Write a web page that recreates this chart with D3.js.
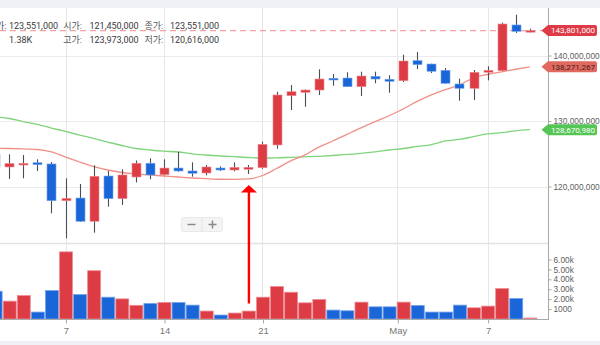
<!DOCTYPE html>
<html>
<head>
<meta charset="utf-8">
<script src="https://cdn.jsdelivr.net/npm/d3@7"></script>
<style>
  html, body { margin: 0; padding: 0; background: #fff; }
  svg { display: block; font-family: Roboto, "Noto Sans CJK KR", "Noto Sans", sans-serif; }
</style>
</head>
<body>
<svg id="chart" width="600" height="345"></svg>
<script>
// Daily KRW candles, 2 Apr – 10 May 2025
const days = [
  "2025-04-02","2025-04-03","2025-04-04","2025-04-05","2025-04-06","2025-04-07","2025-04-08",
  "2025-04-09","2025-04-10","2025-04-11","2025-04-12","2025-04-13","2025-04-14","2025-04-15",
  "2025-04-16","2025-04-17","2025-04-18","2025-04-19","2025-04-20","2025-04-21","2025-04-22",
  "2025-04-23","2025-04-24","2025-04-25","2025-04-26","2025-04-27","2025-04-28","2025-04-29",
  "2025-04-30","2025-05-01","2025-05-02","2025-05-03","2025-05-04","2025-05-05","2025-05-06",
  "2025-05-07","2025-05-08","2025-05-09","2025-05-10"
];
const openPrices = [
  124900000,122980000,123280000,123630000,123440000,117830000,118240000,
  114690000,121600000,118140000,121450000,123550000,121800000,122820000,
  122370000,122060000,122820000,122520000,122630000,122870000,126340000,
  133860000,134380000,134730000,136520000,136560000,135240000,136820000,
  136370000,136150000,139210000,138700000,137740000,135650000,134990000,
  137440000,137680000,144660000,143600000
];
const highPrices = [
  126300000,124920000,124810000,124150000,123740000,121250000,120380000,
  123240000,122370000,122630000,123973000,124310000,124150000,125310000,
  123690000,123280000,123080000,123690000,123280000,126840000,134470000,
  135500000,134800000,137890000,137180000,137440000,137530000,137530000,
  136980000,140120000,140530000,138750000,138090000,136460000,137790000,
  138350000,145010000,146230000,144090000
];
const lowPrices = [
  122400000,121150000,121250000,122370000,115910000,112090000,114580000,
  112950000,116920000,117180000,120616000,121100000,121700000,122260000,
  121500000,121710000,122370000,122320000,121910000,122700000,125770000,
  131680000,132180000,133970000,135390000,135200000,133820000,135760000,
  134320000,135950000,137940000,137330000,135700000,133100000,133210000,
  136210000,137600000,143440000,143550000
];
const closePrices = [
  123000000,123510000,123540000,123330000,117830000,118200000,114690000,
  121560000,118140000,121760000,123551000,121760000,122820000,122370000,
  122020000,122980000,122520000,122930000,122930000,126440000,133970000,
  134470000,134730000,136410000,136260000,135240000,136870000,136410000,
  136060000,139160000,138600000,137590000,135760000,134990000,137440000,
  137740000,144810000,143690000,143801000
];
const volumes = [
  2800,1800,2370,700,2870,6770,2470,
  4870,2200,2030,1380,1570,1670,1670,
  1400,800,400,600,800,2200,3270,
  2700,1630,1970,900,830,1700,1230,
  1230,1700,1370,700,700,1400,1130,
  1300,3070,2070,100
];
// 15-day moving average of the close
const ma15 = [
  125850000,125800000,125730000,125650000,125270000,124500000,123740000,
  123050000,122520000,122140000,121910000,121760000,121600000,121450000,
  121300000,121190000,121110000,121100000,121150000,121680000,122750000,
  123900000,124800000,126000000,126950000,127950000,128950000,129900000,
  130800000,131830000,133000000,134000000,134800000,135500000,136600000,
  137100000,137500000,137900000,138271267
];
// 50-day moving average of the close
const ma50 = [
  130600000,130380000,129920000,129470000,128930000,128400000,127860000,
  127330000,126790000,126260000,125800000,125570000,125390000,125270000,
  124990000,124810000,124660000,124550000,124430000,124350000,124380000,
  124460000,124530000,124610000,124730000,124890000,125070000,125300000,
  125570000,125800000,126110000,126410000,126950000,127180000,127630000,
  128020000,128240000,128500000,128670980
];

const priceTicks = [120000000, 130000000, 140000000];
const volumeTicks = [1000, 2000, 3000, 4000, 5000, 6000];
const dateTicks = ["2025-04-07", "2025-04-14", "2025-04-21", "2025-04-30T14:00", "2025-05-07"];
const dateTickLabels = ["7", "14", "21", "May", "7"];

// Candle shown in the header readout, and the annotated day
const readoutDay = "2025-04-12";
const markedDay = "2025-04-20";

const UP = "#dd3c45", DOWN = "#1a66d9";
const UP_EDGE = "#ee8d93", DOWN_EDGE = "#76a4ec";

const parse = s => new Date(s + (s.length > 10 ? ":00Z" : "T00:00:00Z"));
const candles = days.map((d, i) => ({
  date: parse(d), key: d,
  open: openPrices[i], high: highPrices[i], low: lowPrices[i], close: closePrices[i],
  volume: volumes[i], ma15: ma15[i], ma50: ma50[i]
}));

const svg = d3.select("#chart");
const W = 600, H = 345;
const plotRight = 548;
const priceTop = 8, priceBottom = 243, volBottom = 319;

const x = d3.scaleUtc()
  .domain([parse("2025-04-07"), parse("2025-05-07")])
  .range([65.5, 487.6]);
const y = d3.scaleLinear().domain([120000000, 140000000]).range([186.5, 55.5]);
const yv = d3.scaleLinear().domain([0, 6000]).range([volBottom, 259.5]);

const defs = svg.append("defs");
defs.append("clipPath").attr("id", "clipPrice")
  .append("rect").attr("x", 0).attr("y", priceTop).attr("width", plotRight).attr("height", priceBottom - priceTop);
defs.append("clipPath").attr("id", "clipVol")
  .append("rect").attr("x", 0).attr("y", priceBottom).attr("width", plotRight).attr("height", volBottom - priceBottom);

// frame strips
svg.append("rect").attr("x", 0).attr("y", 0).attr("width", W).attr("height", priceTop).attr("fill", "#eef0f5");
svg.append("rect").attr("x", 0).attr("y", 341).attr("width", W).attr("height", 4).attr("fill", "#eef0f5");

// grid
const grid = svg.append("g");
grid.selectAll(".hg").data(priceTicks).join("line")
  .attr("x1", 0).attr("x2", plotRight)
  .attr("y1", d => Math.round(y(d)) + 0.5).attr("y2", d => Math.round(y(d)) + 0.5)
  .attr("stroke", "#ebebeb");
grid.selectAll(".vg").data(dateTicks).join("line")
  .attr("x1", d => Math.round(x(parse(d))) + 0.5).attr("x2", d => Math.round(x(parse(d))) + 0.5)
  .attr("y1", priceTop).attr("y2", volBottom)
  .attr("stroke", "#e6e6e6");
svg.append("line").attr("x1", 0).attr("x2", plotRight).attr("y1", priceBottom + 0.5).attr("y2", priceBottom + 0.5)
  .attr("stroke", "#e2e2e2").attr("stroke-width", 1.5);

// header readout (the panel's left edge hides the start of the first label)
const rd = candles.find(c => c.key === readoutDay);
const fmt = d3.format(",.0f");
const header = svg.append("g").attr("font-size", 9);
const hdr = [
  { lx: 6.5, anchor: "end", label: "종가:", vx: 9, value: fmt(rd.close), row: 0 },
  { lx: 63.3, anchor: "start", label: "시가:", vx: 89.5, value: fmt(rd.open), row: 0 },
  { lx: 144.5, anchor: "start", label: "종가:", vx: 170, value: fmt(rd.close), row: 0 },
  { lx: null, anchor: "end", label: "", vx: 9, value: (rd.volume / 1000).toFixed(2).replace(/0$/, "") + "K", row: 1 },
  { lx: 63.3, anchor: "start", label: "고가:", vx: 89.5, value: fmt(rd.high), row: 1 },
  { lx: 144.5, anchor: "start", label: "저가:", vx: 170, value: fmt(rd.low), row: 1 }
];
hdr.forEach(h => {
  const by = h.row === 0 ? 28.8 : 43.2;
  if (h.label) {
    header.append("text").attr("x", h.lx).attr("y", by).attr("text-anchor", h.anchor)
      .attr("fill", "#555").text(h.label);
  }
  header.append("text").attr("x", h.vx).attr("y", by).attr("fill", "#3a3a3a").text(h.value);
});

// price pane
const pricePane = svg.append("g").attr("clip-path", "url(#clipPrice)");
const last = candles[candles.length - 1];

pricePane.append("line")
  .attr("x1", 0).attr("x2", plotRight)
  .attr("y1", y(last.close)).attr("y2", y(last.close))
  .attr("stroke", "#f3a3a6").attr("stroke-width", 1.2).attr("stroke-dasharray", "6,4");

const lineOf = key => d3.line().x(d => x(d.date)).y(d => y(d[key])).curve(d3.curveMonotoneX);
pricePane.append("path").datum(candles).attr("d", lineOf("ma50"))
  .attr("fill", "none").attr("stroke", "#7fd47b").attr("stroke-width", 1.3);
pricePane.append("path").datum(candles).attr("d", lineOf("ma15"))
  .attr("fill", "none").attr("stroke", "#f08f86").attr("stroke-width", 1.3);

const bodyW = 9;
const cg = pricePane.selectAll(".candle").data(candles).join("g");
cg.append("line")
  .attr("x1", d => Math.round(x(d.date)) + 0.5).attr("x2", d => Math.round(x(d.date)) + 0.5)
  .attr("y1", d => y(d.high)).attr("y2", d => y(d.low))
  .attr("stroke", "#4a4f57").attr("stroke-width", 1.1);
cg.append("rect")
  .attr("x", d => Math.round(x(d.date)) + 0.5 - bodyW / 2)
  .attr("width", bodyW)
  .attr("y", d => y(Math.max(d.open, d.close)))
  .attr("height", d => Math.max(1.6, Math.abs(y(d.open) - y(d.close))))
  .attr("fill", d => d.close >= d.open ? UP : DOWN)
  .attr("stroke", d => d.close >= d.open ? UP_EDGE : DOWN_EDGE)
  .attr("stroke-width", 0.6);

// volume pane
const volPane = svg.append("g").attr("clip-path", "url(#clipVol)");
const volW = 13;
volPane.selectAll(".vol").data(candles).join("rect")
  .attr("x", d => x(d.date) - volW / 2 + 0.5)
  .attr("width", volW)
  .attr("y", d => yv(d.volume))
  .attr("height", d => volBottom - yv(d.volume))
  .attr("fill", d => d.close >= d.open ? UP : DOWN)
  .attr("stroke", d => d.close >= d.open ? UP_EDGE : DOWN_EDGE)
  .attr("stroke-width", 0.8);

// axes
svg.append("line").attr("x1", 0).attr("x2", plotRight).attr("y1", volBottom + 0.5).attr("y2", volBottom + 0.5)
  .attr("stroke", "#a9a9a9");
svg.append("line").attr("x1", plotRight + 0.5).attr("x2", plotRight + 0.5).attr("y1", priceTop).attr("y2", volBottom + 1)
  .attr("stroke", "#a9a9a9");

const yAxis = d3.axisRight(y).tickValues(priceTicks).tickSize(3).tickPadding(2).tickFormat(fmt);
svg.append("g").attr("transform", `translate(${plotRight + 0.5},0)`).call(yAxis)
  .call(g => g.select(".domain").remove())
  .call(g => g.selectAll("line").attr("stroke", "#a9a9a9"))
  .call(g => g.selectAll("text").attr("fill", "#606060").attr("font-size", 8.3).attr("font-family", null));

const volFmt = v => v < 1500 ? String(v) : (v / 1000).toFixed(2) + "k";
const vAxis = d3.axisRight(yv).tickValues(volumeTicks).tickSize(3).tickPadding(2).tickFormat(volFmt);
svg.append("g").attr("transform", `translate(${plotRight + 0.5},0)`).call(vAxis)
  .call(g => g.select(".domain").remove())
  .call(g => g.selectAll("line").attr("stroke", "#a9a9a9"))
  .call(g => g.selectAll("text").attr("fill", "#606060").attr("font-size", 8.3).attr("font-family", null));

const xAxis = d3.axisBottom(x).tickValues(dateTicks.map(parse)).tickSize(4).tickPadding(4)
  .tickFormat((d, i) => dateTickLabels[i]);
svg.append("g").attr("transform", `translate(0.5,${volBottom + 0.5})`).call(xAxis)
  .call(g => g.select(".domain").remove())
  .call(g => g.selectAll("line").attr("stroke", "#a9a9a9"))
  .call(g => g.selectAll("text").attr("fill", "#777").attr("font-size", 9.5).attr("font-family", null));

// value tags on the price axis
function tag(value, fill, textFill) {
  const cy = y(value), h = 11, left = 541.5, body = plotRight, right = 597;
  const g = svg.append("g");
  g.append("path")
    .attr("d", `M${left},${cy} L${body},${cy - h / 2} L${right - 2},${cy - h / 2} Q${right},${cy - h / 2} ${right},${cy - h / 2 + 2} L${right},${cy + h / 2 - 2} Q${right},${cy + h / 2} ${right - 2},${cy + h / 2} L${body},${cy + h / 2} Z`)
    .attr("fill", fill);
  g.append("text").attr("x", (body + right) / 2 + 0.5).attr("y", cy).attr("dy", "0.35em")
    .attr("text-anchor", "middle")
    .attr("font-size", 8.1).attr("fill", textFill).text(fmt(value));
}
tag(last.ma50, "#55c655", "#ffffff");
tag(last.ma15, "#e2695f", "#3b2020");
tag(last.close, "#de3b46", "#ffffff");

// zoom buttons
const zb = svg.append("g");
zb.append("rect").attr("x", 181.5).attr("y", 217.5).attr("width", 41).attr("height", 14).attr("rx", 2)
  .attr("fill", "#f4f4f4").attr("stroke", "#e9e9e9");
zb.append("line").attr("x1", 202).attr("x2", 202).attr("y1", 218).attr("y2", 231).attr("stroke", "#e2e2e2");
zb.append("line").attr("x1", 187.5).attr("x2", 195.5).attr("y1", 224.5).attr("y2", 224.5).attr("stroke", "#8a8a8a").attr("stroke-width", 1.5);
zb.append("line").attr("x1", 208.5).attr("x2", 216.5).attr("y1", 224.5).attr("y2", 224.5).attr("stroke", "#8a8a8a").attr("stroke-width", 1.5);
zb.append("line").attr("x1", 212.5).attr("x2", 212.5).attr("y1", 220.5).attr("y2", 228.5).attr("stroke", "#8a8a8a").attr("stroke-width", 1.5);

// annotation arrow under the marked day
const mk = candles.find(c => c.key === markedDay);
const ax = x(mk.date) + 0.5;
const tipY = 185, headY = 192.5, tailY = 303.5;
svg.append("line").attr("x1", ax).attr("x2", ax).attr("y1", headY - 1).attr("y2", tailY)
  .attr("stroke", "#ff0000").attr("stroke-width", 2.4);
svg.append("path").attr("d", `M${ax},${tipY} L${ax + 8},${headY} L${ax - 8},${headY} Z`).attr("fill", "#ff0000");
</script>
</body>
</html>
